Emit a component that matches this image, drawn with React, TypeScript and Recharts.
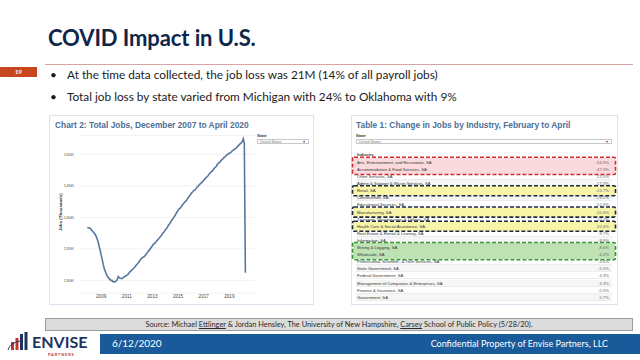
import React from "react";
import { LineChart, Line, XAxis, YAxis, CartesianGrid } from "recharts";

// total nonfarm jobs, thousands, monthly from Dec 2007 to Apr 2020
const firstYear = 2007;
const firstMonth = 12;
const totalJobs = [
  138400,
  138350, 138300, 138200, 138000, 137800, 137600, 137400, 137100, 136700, 136200, 135500, 134800,
  134000, 133300, 132500, 131800, 131400, 130900, 130600, 130400, 130200, 130000, 130000, 129800,
  129800, 129750, 129900, 130100, 130600, 130400, 130350, 130300, 130300, 130500, 130600, 130700,
  130800, 130950, 131150, 131400, 131500, 131700, 131850, 132000, 132250, 132450, 132650, 132850,
  133100, 133350, 133550, 133650, 133750, 133900, 134150, 134350, 134600, 134800, 135000, 135250,
  135500, 135750, 135850, 136050, 136250, 136450, 136650, 136850, 137050, 137300, 137550, 137700,
  138000, 138200, 138450, 138750, 138950, 139250, 139550, 139750, 140000, 140250, 140550, 140850,
  141100, 141350, 141450, 141700, 141950, 142150, 142400, 142550, 142700, 143000, 143250, 143450,
  143700, 143950, 144100, 144300, 144350, 144600, 144850, 145000, 145200, 145350, 145500, 145700,
  145900, 146100, 146250, 146450, 146600, 146850, 147050, 147250, 147300, 147600, 147800, 147950,
  148150, 148450, 148600, 148750, 148950, 149150, 149300, 149500, 149600, 149800, 149950, 150050,
  150200, 150250, 150400, 150600, 150700, 150850, 150950, 151100, 151300, 151450, 151650, 151800,
  152000, 152450, 151700, 131200,
];
const yearTicks = [2009, 2011, 2013, 2015, 2017, 2019];
const jobTicks = [130000, 135000, 140000, 145000, 150000];

const industries = [
  "Arts, Entertainment, and Recreation, SA",
  "Accommodation & Food Services, SA",
  "Other Services, SA",
  "Admin & Support & Waste Services, SA",
  "Retail, SA",
  "Construction, SA",
  "Educational Services, SA",
  "Manufacturing, SA",
  "Transport, Warehousing, & Utilities, SA",
  "Health Care & Social Assistance, SA",
  "Real Estate & Rental & Leasing, SA",
  "Information, SA",
  "Mining & Logging, SA",
  "Wholesale, SA",
  "Professional, Scientific, & Tech Services, SA",
  "State Government, SA",
  "Federal Government, SA",
  "Management of Companies & Enterprises, SA",
  "Finance & Insurance, SA",
  "Government, SA",
];
const changes = [
  -54.5, -47.3, -22.0, -17.3, -15.7, -15.2, -12.9, -10.6, -10.4, -10.4,
  -9.7, -8.5, -8.0, -6.2, -5.6, -5.5, -4.3, -3.3, -0.5, 0.7,
];

const bullets = [
  "At the time data collected, the job loss was 21M (14% of all payroll jobs)",
  "Total job loss by state varied from Michigan with 24% to Oklahoma with 9%",
];

// highlighted row groups in the table: [first row, last row, fill, border]
const highlights: [number, number, string, string][] = [
  [0, 1, "#fbdadd", "#d42a2f"],
  [4, 4, "#f8f4a8", "#1f2a3a"],
  [7, 7, "#f8f4a8", "#1f2a3a"],
  [9, 9, "#f8f4a8", "#1f2a3a"],
  [12, 13, "#bfe2b5", "#3b963a"],
];

const chartData = totalJobs.map((jobs, i) => ({
  t: firstYear + (firstMonth - 1 + i) / 12,
  jobs,
}));

const SANS = "Lato, 'Open Sans', sans-serif";
const TAB = "'Liberation Sans', Arial, sans-serif";
const ROW_TOP = 158.8;
const ROW_H = 7.1;

function Dropdown({ x, y, w }: { x: number; y: number; w: number }) {
  return (
    <>
      <div style={{ position: "absolute", left: x, top: y - 6, fontSize: 4, fontWeight: 700, color: "#333", fontFamily: TAB }}>
        State
      </div>
      <div
        style={{
          position: "absolute",
          left: x,
          top: y,
          width: w,
          height: 5,
          border: "0.6px solid #c8c8c8",
          fontSize: 3.6,
          lineHeight: "5px",
          color: "#777",
          fontFamily: TAB,
          paddingLeft: 2,
          boxSizing: "border-box",
        }}
      >
        United States
        <span style={{ position: "absolute", right: 3, top: 0, color: "#444" }}>▾</span>
      </div>
    </>
  );
}

export default function App() {
  return (
    <div style={{ position: "absolute", left: 0, top: 0, width: 640, height: 360, background: "#fff", overflow: "hidden", fontFamily: SANS }}>
      {/* slide header */}
      <div style={{ position: "absolute", left: 48, top: 24, fontSize: 22, fontWeight: 700, color: "#0e2649", letterSpacing: -0.1 }}>
        COVID Impact in U.S.
      </div>
      <div style={{ position: "absolute", left: 45, top: 64, width: 588, height: 1, background: "#d8a3a3" }} />
      <div
        style={{
          position: "absolute",
          left: 0,
          top: 67,
          width: 37,
          height: 10,
          background: "#c9471d",
          color: "#fff",
          fontSize: 6,
          fontWeight: 700,
          lineHeight: "10px",
          textAlign: "center",
        }}
      >
        19
      </div>
      {bullets.map((b, i) => (
        <div key={i} style={{ position: "absolute", left: 50, top: 67 + i * 22, fontSize: 11.8, color: "#1b1b1b", whiteSpace: "nowrap" }}>
          <span style={{ display: "inline-block", width: 17 }}>•</span>
          {b}
        </div>
      ))}

      {/* left panel: line chart */}
      <div style={{ position: "absolute", left: 49, top: 115, width: 265, height: 190, border: "1.5px solid #dbe4ee", boxSizing: "border-box" }} />
      <div style={{ position: "absolute", left: 55, top: 120, fontSize: 8.4, fontWeight: 700, color: "#4e6e95", fontFamily: TAB }}>
        Chart 2: Total Jobs, December 2007 to April 2020
      </div>
      <Dropdown x={257} y={139} w={52} />
      <div style={{ position: "absolute", left: 50, top: 115 }}>
        <LineChart width={264} height={190} data={chartData} margin={{ top: 20.4, right: 59, bottom: 0, left: 0 }}>
          <CartesianGrid vertical={false} stroke="#efefef" strokeWidth={0.8} />
          <XAxis
            dataKey="t"
            type="number"
            domain={[2007.35, 2021.0]}
            ticks={yearTicks}
            allowDataOverflow
            axisLine={false}
            tickLine={false}
            tickSize={0}
            tickMargin={2}
            height={12}
            tick={{ fontSize: 4.6, fill: "#444", fontFamily: TAB }}
          />
          <YAxis
            type="number"
            domain={[128000, 153000]}
            ticks={jobTicks}
            allowDataOverflow
            axisLine={false}
            tickLine={false}
            tickSize={0}
            tickMargin={6}
            width={30}
            tickFormatter={(v: number) => `${v / 1000}K`}
            tick={{ fontSize: 4.4, fill: "#555", fontFamily: TAB }}
            label={{
              content: (p: any) => {
                const vb = p.viewBox || { x: 0, y: 20, width: 30, height: 157 };
                const cx = vb.x + 10.7;
                const cy = vb.y + vb.height / 2 - 2;
                return (
                  <text x={cx} y={cy} transform={`rotate(-90, ${cx}, ${cy})`} textAnchor="middle" dominantBaseline="central" fontSize={4.4} fontWeight={700} fill="#333" fontFamily={TAB}>
                    Jobs (Thousands)
                  </text>
                );
              },
            }}
          />
          <Line type="linear" dataKey="jobs" stroke="#56789f" strokeWidth={1.6} dot={false} isAnimationActive={false} />
        </LineChart>
      </div>

      {/* right panel: industry table */}
      <div style={{ position: "absolute", left: 351, top: 115, width: 267, height: 190, border: "1.5px solid #dbe4ee", boxSizing: "border-box" }} />
      <div style={{ position: "absolute", left: 356, top: 120, fontSize: 8.4, fontWeight: 700, color: "#4e6e95", fontFamily: TAB }}>
        Table 1: Change in Jobs by Industry, February to April
      </div>
      <Dropdown x={356} y={139} w={256} />
      <div style={{ position: "absolute", left: 357, top: 151.5, fontSize: 4.2, fontWeight: 700, color: "#333", fontFamily: TAB }}>Industry</div>
      <div style={{ position: "absolute", left: 356, top: 157.5, width: 256, height: 0.6, background: "#bbb" }} />
      {industries.map((name, i) => (
        <div
          key={"bg" + i}
          style={{
            position: "absolute",
            left: 356,
            top: ROW_TOP + i * ROW_H,
            width: 256,
            height: ROW_H,
            background: i % 2 ? "#f6f6f6" : "#fff",
            borderBottom: "0.5px solid #ececec",
            boxSizing: "border-box",
          }}
        />
      ))}
      {highlights.map(([a, b, fill], k) => (
        <div
          key={"hf" + k}
          style={{ position: "absolute", left: 353, top: ROW_TOP + a * ROW_H - 1, width: 262, height: (b - a + 1) * ROW_H + 2, background: fill }}
        />
      ))}
      {industries.map((name, i) => (
        <div
          key={"row" + i}
          style={{
            position: "absolute",
            left: 357,
            top: ROW_TOP + i * ROW_H,
            width: 252,
            height: ROW_H,
            lineHeight: `${ROW_H}px`,
            fontSize: 4.2,
            color: "#333",
            fontFamily: TAB,
            whiteSpace: "nowrap",
          }}
        >
          {name}
          <span style={{ position: "absolute", right: 0, color: "#666" }}>{changes[i].toFixed(1)}%</span>
        </div>
      ))}
      <svg style={{ position: "absolute", left: 0, top: 0 }} width={640} height={360}>
        {highlights.map(([a, b, , stroke], k) => (
          <rect
            key={k}
            x={352.5}
            y={ROW_TOP + a * ROW_H - 1.5}
            width={263}
            height={(b - a + 1) * ROW_H + 3}
            rx={1.5}
            fill="none"
            stroke={stroke}
            strokeWidth={1.6}
            strokeDasharray="4 2"
          />
        ))}
      </svg>

      {/* footer */}
      <div
        style={{
          position: "absolute",
          left: 45,
          top: 318,
          width: 588,
          height: 13,
          background: "#dcdcdc",
          border: "0.8px solid #9c9c9c",
          boxSizing: "border-box",
          fontSize: 7.4,
          lineHeight: "12px",
          textAlign: "center",
          color: "#2a2a2a",
          whiteSpace: "nowrap",
        }}
      >
        Source: Michael <u>Ettlinger</u> &amp; Jordan Hensley, The University of New Hampshire, <u>Carsey</u> School of Public Policy (5/28/20).
      </div>
      <div style={{ position: "absolute", left: 100, top: 334, width: 540, height: 20, background: "#195a9b" }} />
      <div style={{ position: "absolute", left: 112, top: 337, fontSize: 10, color: "#fff" }}>6/12/2020</div>
      <div style={{ position: "absolute", right: 32, top: 338, fontSize: 9, color: "#fff" }}>Confidential Property of Envise Partners, LLC</div>
      <svg style={{ position: "absolute", left: 0, top: 330 }} width={100} height={30}>
        <rect x={11} y={12} width={3} height={8} fill="#c8322a" />
        <rect x={15.5} y={8} width={3} height={12} fill="#c8322a" />
        <rect x={20} y={4} width={3} height={16} fill="#1d3461" />
        <rect x={24.5} y={2} width={3} height={18} fill="#1d3461" />
        <path d="M8 20 Q 10 13 20 11" stroke="#1d3461" strokeWidth={1} fill="none" />
        <text x={32} y={18} fontSize={16} fontWeight={700} fill="#1d3461" fontFamily={SANS}>ENVISE</text>
        <text x={48} y={26} fontSize={4} fontWeight={700} fill="#c8322a" fontFamily={SANS} letterSpacing={0.8}>PARTNERS</text>
      </svg>
    </div>
  );
}
